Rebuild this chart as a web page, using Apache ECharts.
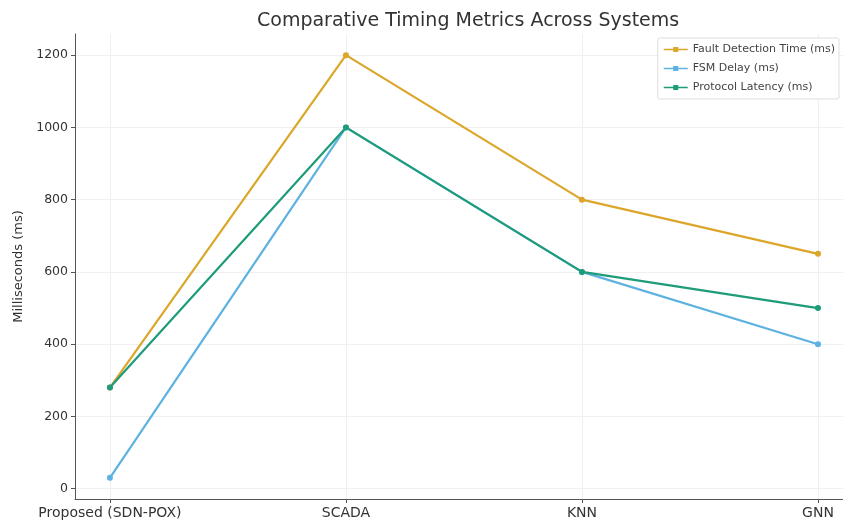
<!DOCTYPE html>
<html>
<head>
<meta charset="utf-8">
<script src="https://cdn.jsdelivr.net/npm/echarts@6/dist/echarts.min.js"></script>
<style>html,body{margin:0;padding:0;background:#fff;}#chart{width:843px;height:523px;}</style>
</head>
<body>
<div id="chart"></div>
<script>
// Systems compared
const categories = ['Proposed (SDN-POX)', 'SCADA', 'KNN', 'GNN'];
// Timing metrics in milliseconds
const faultDetection = [280, 1200, 800, 650];
const fsmDelay = [30, 1000, 600, 400];
const protocolLatency = [280, 1000, 600, 500];
const yTicks = [0, 200, 400, 600, 800, 1000, 1200];
const xTicks = [0, 1, 2, 3];

const seriesDefs = [
  { name: 'Fault Detection Time (ms)', data: faultDetection, color: '#DBA629' },
  { name: 'FSM Delay (ms)', data: fsmDelay, color: '#5DB2E0' },
  { name: 'Protocol Latency (ms)', data: protocolLatency, color: '#1E9C7A' }
];

const font = 'DejaVu Sans';
const chart = echarts.init(document.getElementById('chart'));
chart.setOption({
  backgroundColor: '#fff',
  animation: false,
  title: {
    text: 'Comparative Timing Metrics Across Systems',
    left: 252, top: 7,
    textStyle: { fontFamily: font, fontSize: 19, fontWeight: 'normal', color: '#333' }
  },
  legend: {
    right: 4, top: 38, orient: 'vertical', itemGap: 8,
    itemWidth: 24, itemHeight: 10,
    backgroundColor: '#fff', borderColor: '#ddd', borderWidth: 1, borderRadius: 2, padding: [6, 4, 6, 6],
    textStyle: { fontFamily: font, fontSize: 11, color: '#444' },
    data: seriesDefs.map(s => ({ name: s.name, icon: 'path://M0,4.2h24v1.6h-24z M9.5,2.5h5v5h-5z' }))
  },
  grid: { left: 75, top: 34, width: 768, height: 465 },
  xAxis: {
    type: 'value', min: -0.148, max: 3.106,
    axisLine: { onZero: false, lineStyle: { color: '#555', width: 1 } },
    axisTick: { show: true, length: 4, customValues: xTicks, lineStyle: { color: '#555' } },
    splitLine: { show: true, lineStyle: { color: '#f0f0f0' } },
    axisLabel: {
      fontFamily: font, fontSize: 14, color: '#333', margin: 7,
      customValues: xTicks,
      formatter: v => categories[Math.round(v)] || ''
    }
  },
  yAxis: {
    type: 'value', min: -28.5, max: 1258.5,
    name: 'Milliseconds (ms)', nameLocation: 'middle', nameGap: 49,
    nameTextStyle: { fontFamily: font, fontSize: 13, color: '#333' },
    axisLine: { show: true, onZero: false, lineStyle: { color: '#555', width: 1 } },
    axisTick: { show: true, length: 4, customValues: yTicks, lineStyle: { color: '#555' } },
    splitLine: { show: true, lineStyle: { color: '#f0f0f0' } },
    axisLabel: {
      fontFamily: font, fontSize: 12.5, color: '#333', margin: 7,
      customValues: yTicks,
      formatter: v => String(v)
    }
  },
  series: seriesDefs.map(s => ({
    name: s.name, type: 'line',
    data: s.data.map((v, i) => [i, v]),
    color: s.color,
    lineStyle: { width: 2.2, color: s.color },
    itemStyle: { color: s.color },
    symbol: 'circle', symbolSize: 6, showSymbol: true
  }))
});
</script>
</body>
</html>
